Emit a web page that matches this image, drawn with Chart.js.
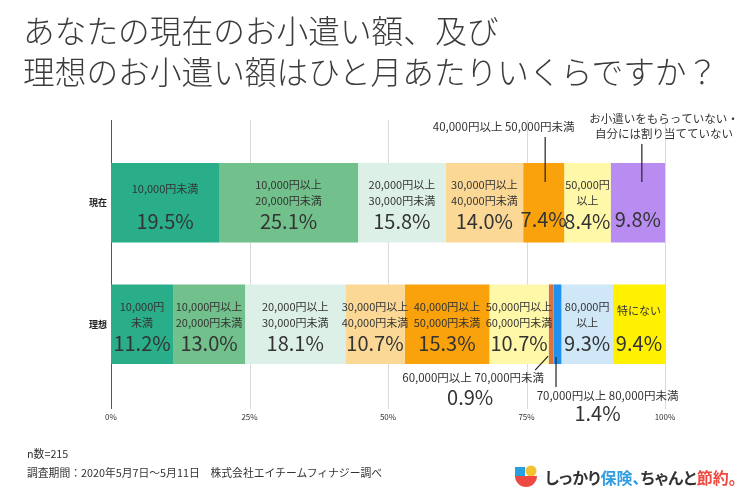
<!DOCTYPE html>
<html><head><meta charset="utf-8">
<script src="https://cdn.jsdelivr.net/npm/chart.js@4/dist/chart.umd.min.js"></script>
<style>
html,body{margin:0;padding:0;background:#fff;}
#wrap{position:relative;width:750px;height:500px;overflow:hidden;font-family:"Noto Sans CJK JP","Noto Sans",sans-serif;}
#c{position:absolute;left:0;top:0;}
#title{position:absolute;left:23px;top:9px;font-size:31.7px;line-height:41px;color:#3c3c3c;font-weight:300;white-space:nowrap;}
.foot{position:absolute;left:27px;font-size:10.8px;line-height:14px;color:#333;white-space:nowrap;}
#logo{position:absolute;left:514px;top:465px;height:24px;white-space:nowrap;}
#logo svg{position:absolute;left:0;top:0;}
#logo span.t{position:absolute;left:31px;top:0;font-size:16px;line-height:24px;font-weight:bold;color:#333;font-feature-settings:"palt";}
.b{color:#2f9de0}.r{color:#ee4a42}
</style></head>
<body>
<div id="wrap">
<canvas id="c" width="750" height="500"></canvas>
<div id="title">あなたの現在のお小遣い額、及び<br>理想のお小遣い額はひと月あたりいくらですか？</div>
<div class="foot" style="top:446px">n数=215</div>
<div class="foot" style="top:465px">調査期間：2020年5月7日～5月11日　株式会社エイチームフィナジー調べ</div>
<div id="logo">
<svg width="24" height="24" viewBox="0 0 24 24">
<rect x="1" y="2" width="10" height="9" fill="#2a9fe0"/>
<circle cx="17" cy="6" r="5.5" fill="#f2c230"/>
<path d="M1 11 H23 A11 11 0 0 1 1 11 Z" fill="#ee4a42"/>
</svg>
<span class="t">しっかり<span class="b">保険、</span>ちゃんと<span class="r">節約。</span></span>
</div>
</div>
<script>
const categories = ['現在', '理想'];
const currentValues = [19.5, 25.1, 15.8, 14.0, 7.4, 8.4, 9.8];
const currentLabels = ['10,000円未満', '10,000円以上\n20,000円未満', '20,000円以上\n30,000円未満', '30,000円以上\n40,000円未満', '40,000円以上 50,000円未満', '50,000円\n以上', 'お小遣いをもらっていない・\n自分には割り当てていない'];
const idealValues = [11.2, 13.0, 18.1, 10.7, 15.3, 10.7, 0.9, 1.4, 9.3, 9.4];
const idealLabels = ['10,000円\n未満', '10,000円以上\n20,000円未満', '20,000円以上\n30,000円未満', '30,000円以上\n40,000円未満', '40,000円以上\n50,000円未満', '50,000円以上\n60,000円未満', '60,000円以上 70,000円未満', '70,000円以上 80,000円未満', '80,000円\n以上', '特にない'];
const xTickValues = [0, 25, 50, 75, 100];

const currentColors = ['#2aae89', '#72c08b', '#ddf0e7', '#fcd897', '#f9a20b', '#fff8a8', '#b98cf1'];
const idealColors = ['#2aae89', '#72c08b', '#ddf0e7', '#fcd897', '#f9a20b', '#fff8a8', '#d8743c', '#1f91f0', '#d0e7f8', '#fff100'];

const FONT = '"Noto Sans CJK JP", "Noto Sans", sans-serif';
const n = Math.max(currentValues.length, idealValues.length);
const datasets = [];
for (let i = 0; i < n; i++) {
  datasets.push({
    data: [i < currentValues.length ? currentValues[i] : null, i < idealValues.length ? idealValues[i] : null],
    backgroundColor: [currentColors[i] || '#fff', idealColors[i] || '#fff'],
    borderWidth: 0,
    categoryPercentage: 1,
    barPercentage: 0.655
  });
}

// callout styles (which segments have their text outside the bar)
const callouts = {
  '0-4': 'topLabel',
  '0-6': 'topRightLabel',
  '1-6': 'bottomLeft',
  '1-7': 'bottomRight'
};

const decor = {
  id: 'decor',
  beforeDatasetsDraw(chart) {
    const ctx = chart.ctx, xs = chart.scales.x;
    const top = chart.chartArea.top - 22, bottom = chart.chartArea.bottom + 24;
    ctx.save();
    xTickValues.forEach(v => {
      const px = Math.round(xs.getPixelForValue(v)) + 0.5;
      ctx.strokeStyle = v === 0 ? '#555' : '#dadada';
      ctx.lineWidth = 1;
      ctx.beginPath(); ctx.moveTo(px, top); ctx.lineTo(px, bottom); ctx.stroke();
    });
    ctx.restore();
  },
  afterDatasetsDraw(chart) {
    const ctx = chart.ctx;
    ctx.save();
    ctx.textAlign = 'center';
    ctx.textBaseline = 'middle';
    const txt = (s, x, y, size, color) => {
      ctx.font = size + 'px ' + FONT;
      ctx.fillStyle = color || '#333';
      ctx.fillText(s, x, y);
    };
    const line = (x1, y1, x2, y2) => {
      ctx.strokeStyle = '#222'; ctx.lineWidth = 1.2;
      ctx.beginPath(); ctx.moveTo(x1, y1); ctx.lineTo(x2, y2); ctx.stroke();
    };
    chart.data.datasets.forEach((ds, di) => {
      const meta = chart.getDatasetMeta(di);
      meta.data.forEach((bar, ci) => {
        const v = ds.data[ci];
        if (v == null) return;
        const p = bar.getProps(['x', 'y', 'base', 'height'], true);
        const left = Math.min(p.x, p.base), right = Math.max(p.x, p.base);
        const cx = (left + right) / 2, cy = p.y;
        const top = cy - p.height / 2, bottom = cy + p.height / 2;
        const label = (ci === 0 ? currentLabels : idealLabels)[di];
        const pct = v.toFixed(1) + '%';
        const kind = callouts[ci + '-' + di];
        if (!kind) {
          const lines = label.split('\n');
          if (lines.length === 2) {
            txt(lines[0], cx, cy - 17.5, 11);
            txt(lines[1], cx, cy - 1.5, 11);
          } else {
            txt(lines[0], cx, cy - 13.5, 11);
          }
          txt(pct, cx, cy + 19, 20);
        } else if (kind === 'topLabel') {
          txt(label, cx - 40, top - 36, 11.5);
          line(cx + 1.5, top - 26, cx + 1.5, top + 19);
          txt(pct, cx, cy + 17, 20);
        } else if (kind === 'topRightLabel') {
          const lines = label.split('\n');
          txt(lines[0], right - 1, top - 44, 11.5);
          txt(lines[1], right - 1, top - 29, 11.5);
          line(cx + 4, top - 19, cx + 4, top + 19);
          txt(pct, cx, cy + 17, 20);
        } else if (kind === 'bottomLeft') {
          line(cx - 3, bottom - 8, cx - 16, bottom + 6);
          txt(label, cx - 78, bottom + 14, 11.5);
          txt(pct, cx - 81, bottom + 33, 20);
        } else if (kind === 'bottomRight') {
          line(cx - 1.5, bottom - 7, cx - 1.5, bottom + 23);
          txt(label, cx + 50, bottom + 32, 11.5);
          txt(pct, cx + 40, bottom + 49, 20);
        }
      });
    });
    ctx.restore();
  }
};

new Chart(document.getElementById('c'), {
  type: 'bar',
  data: { labels: categories, datasets },
  options: {
    indexAxis: 'y',
    responsive: false,
    animation: false,
    layout: { padding: { top: 142, right: 85, bottom: 73, left: 0 } },
    plugins: { legend: { display: false }, tooltip: { enabled: false }, title: { display: false } },
    scales: {
      x: {
        stacked: true, min: 0, max: 100,
        afterBuildTicks: s => { s.ticks = xTickValues.map(v => ({ value: v })); },
        afterFit: s => { s.height = 42; },
        ticks: { callback: v => v + '%', font: { size: 8, family: FONT }, color: '#333', padding: 27, maxRotation: 0, autoSkip: false },
        grid: { display: false, drawTicks: false },
        border: { display: false }
      },
      y: {
        stacked: true,
        afterFit: s => { s.width = 111; },
        ticks: { font: { size: 9, weight: 'bold', family: FONT }, color: '#222', padding: 4 },
        grid: { display: false, drawTicks: false },
        border: { display: false }
      }
    }
  },
  plugins: [decor]
});
</script>
</body></html>
